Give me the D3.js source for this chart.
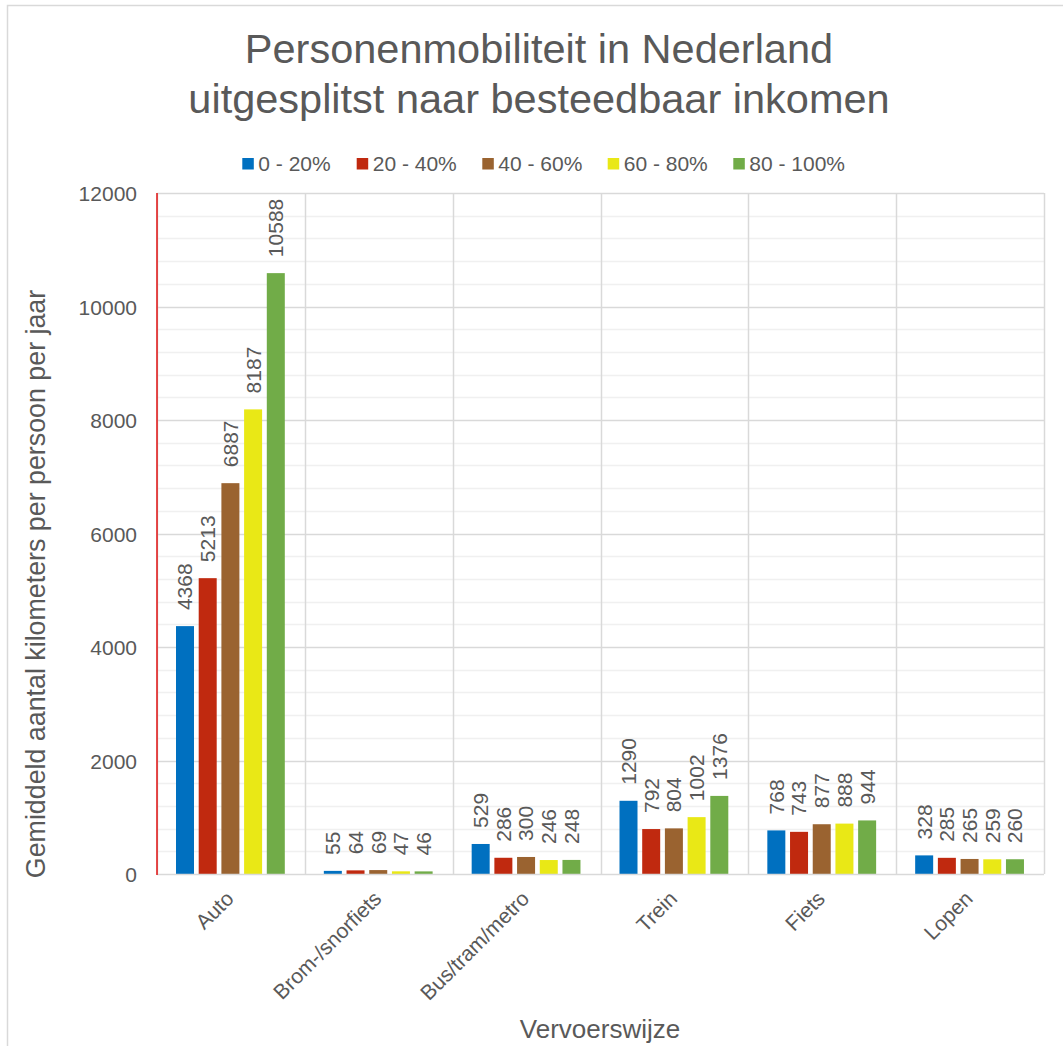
<!DOCTYPE html>
<html>
<head>
<meta charset="utf-8">
<script src="https://cdn.jsdelivr.net/npm/d3@7"></script>
<style>
  html, body { margin: 0; padding: 0; background: #ffffff; }
  svg { display: block; font-family: "Liberation Sans", Arial, sans-serif; }
</style>
</head>
<body>
<svg id="chart" width="1063" height="1046"></svg>
<script>
const categories = ["Auto", "Brom-/snorfiets", "Bus/tram/metro", "Trein", "Fiets", "Lopen"];
const seriesNames = ["0 - 20%", "20 - 40%", "40 - 60%", "60 - 80%", "80 - 100%"];
const s0_20   = [4368, 55, 529, 1290, 768, 328];
const s20_40  = [5213, 64, 286, 792, 743, 285];
const s40_60  = [6887, 69, 300, 804, 877, 265];
const s60_80  = [8187, 47, 246, 1002, 888, 259];
const s80_100 = [10588, 46, 248, 1376, 944, 260];
const seriesValues = [s0_20, s20_40, s40_60, s60_80, s80_100];
const seriesColors = ["#0070C0", "#C0290F", "#9A6330", "#E9E816", "#71AC48"];
const yTicks = [0, 2000, 4000, 6000, 8000, 10000, 12000];
const titleLines = ["Personenmobiliteit in Nederland", "uitgesplitst naar besteedbaar inkomen"];
const yTitle = "Gemiddeld aantal kilometers per persoon per jaar";
const xTitle = "Vervoerswijze";

const svg = d3.select("#chart");
const textColor = "#595959";
const plot = { left: 157, right: 1044, top: 193, bottom: 874 };

// outer border (chart frame extends past the right/bottom edge of the picture)
svg.append("rect").attr("x", 7.5).attr("y", 5.5).attr("width", 1080).attr("height", 1080)
  .attr("fill", "none").attr("stroke", "#d9d9d9").attr("stroke-width", 1.5);

const x0 = d3.scaleBand().domain(categories).range([plot.left, plot.right]).padding(0);
const groupStart = 19, barW = 18, barStep = 22.7;
const x1 = d3.scaleBand().domain(seriesNames)
  .range([groupStart, groupStart + 4 * barStep + barW])
  .paddingInner((barStep - barW) / barStep).paddingOuter(0);
const y = d3.scaleLinear().domain([0, 12000]).range([plot.bottom, plot.top]);

// minor gridlines
const minor = d3.range(0, 12001, 400).filter(v => v % 2000 !== 0);
svg.append("g").selectAll("line").data(minor).join("line")
  .attr("x1", plot.left).attr("x2", plot.right)
  .attr("y1", d => Math.round(y(d)) + 0.5).attr("y2", d => Math.round(y(d)) + 0.5)
  .attr("stroke", "#f0f0f0").attr("stroke-width", 1.5);

// major gridlines
svg.append("g").selectAll("line").data(yTicks.filter(v => v > 0)).join("line")
  .attr("x1", plot.left).attr("x2", plot.right)
  .attr("y1", d => Math.round(y(d)) + 0.5).attr("y2", d => Math.round(y(d)) + 0.5)
  .attr("stroke", "#d9d9d9").attr("stroke-width", 1.5);

// vertical category lines
const vlines = categories.map(c => x0(c) + x0.bandwidth()).concat([plot.left]);
svg.append("g").selectAll("line").data(vlines).join("line")
  .attr("x1", d => Math.round(d) + 0.5).attr("x2", d => Math.round(d) + 0.5)
  .attr("y1", plot.top).attr("y2", plot.bottom)
  .attr("stroke", "#d9d9d9").attr("stroke-width", 1.5);

// bars
const groups = svg.append("g").selectAll("g").data(categories).join("g")
  .attr("transform", c => `translate(${x0(c)},0)`);
groups.selectAll("rect").data((c, ci) => seriesNames.map((s, si) => ({ s, si, v: seriesValues[si][ci] })))
  .join("rect")
  .attr("x", d => x1(d.s)).attr("width", x1.bandwidth())
  .attr("y", d => y(d.v)).attr("height", d => y(0) - y(d.v))
  .attr("fill", d => seriesColors[d.si]);

// value labels
groups.selectAll("text").data((c, ci) => seriesNames.map((s, si) => ({ s, si, v: seriesValues[si][ci] })))
  .join("text")
  .attr("transform", d => `translate(${x1(d.s) + x1.bandwidth() / 2 + 7.4},${y(d.v) - 16}) rotate(-90)`)
  .attr("text-anchor", "start")
  .attr("font-size", 21).attr("fill", textColor)
  .text(d => d.v);

// x axis line
svg.append("line").attr("x1", plot.left).attr("x2", plot.right)
  .attr("y1", plot.bottom + 0.5).attr("y2", plot.bottom + 0.5)
  .attr("stroke", "#d9d9d9").attr("stroke-width", 1.5);

// y axis line (red)
svg.append("line").attr("x1", plot.left).attr("x2", plot.left)
  .attr("y1", plot.top).attr("y2", plot.bottom + 1)
  .attr("stroke", "#E01010").attr("stroke-width", 1.5);

// y axis ticks via d3 axis
const yAxis = d3.axisLeft(y).tickValues(yTicks).tickSize(0).tickPadding(20).tickFormat(d3.format("d"));
const yg = svg.append("g").attr("transform", `translate(${plot.left},0)`).call(yAxis);
yg.select(".domain").remove();
yg.selectAll("text").attr("font-size", 21).attr("fill", textColor)
  .attr("font-family", "'Liberation Sans', Arial, sans-serif").attr("dy", "0.36em");

// x axis category labels
const xAxis = d3.axisBottom(x0).tickSize(0).tickPadding(0);
const xg = svg.append("g").attr("transform", `translate(0,${plot.bottom})`).call(xAxis);
xg.select(".domain").remove();
xg.selectAll("text")
  .attr("font-size", 21).attr("fill", textColor)
  .attr("font-family", "'Liberation Sans', Arial, sans-serif")
  .attr("text-anchor", "end").attr("dy", null).attr("y", null)
  .attr("transform", "translate(4,26) rotate(-45)");

// title
svg.append("g").selectAll("text").data(titleLines).join("text")
  .attr("x", 539).attr("y", (d, i) => 63 + i * 49.5)
  .attr("text-anchor", "middle").attr("font-size", 41.5).attr("fill", textColor)
  .text(d => d);

// legend
const legendX = [242.3, 356.7, 482.3, 607.7, 733.3];
const lg = svg.append("g").selectAll("g").data(seriesNames).join("g")
  .attr("transform", (d, i) => `translate(${legendX[i]},0)`);
lg.append("rect").attr("x", 0).attr("y", 158).attr("width", 11.5).attr("height", 11.5)
  .attr("fill", (d, i) => seriesColors[i]);
lg.append("text").attr("x", 16).attr("y", 170.5).attr("font-size", 21).attr("fill", textColor)
  .text(d => d);

// axis titles
svg.append("text").attr("transform", "translate(45,584) rotate(-90)")
  .attr("text-anchor", "middle").attr("font-size", 26.8).attr("fill", textColor).text(yTitle);
svg.append("text").attr("x", 600).attr("y", 1038)
  .attr("text-anchor", "middle").attr("font-size", 26).attr("fill", textColor).text(xTitle);
</script>
</body>
</html>
